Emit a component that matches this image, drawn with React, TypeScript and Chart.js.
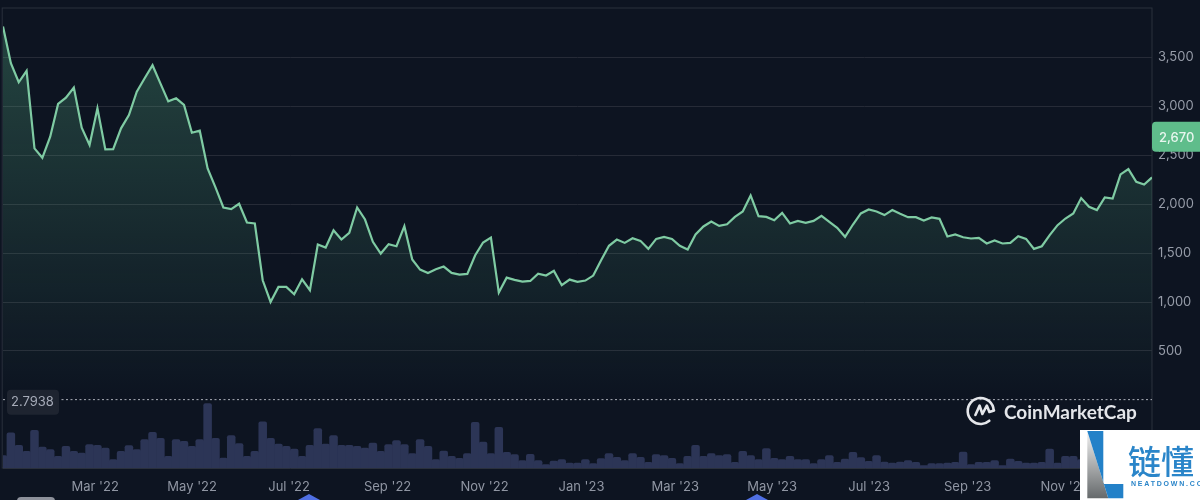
import React, { useEffect, useRef } from "react";
import { Chart, registerables } from "chart.js";

Chart.register(...registerables);

const prices = [
  3816, 3441, 3247, 3363, 2571, 2475, 2690, 3025, 3090, 3192, 2782, 2605, 2980, 2561, 2564, 2776, 2912, 3151, 3288, 3421,
  3236, 3052, 3083, 3015, 2731, 2752, 2366, 2172, 1967, 1950, 2005, 1813, 1803, 1223, 1001, 1155, 1155, 1080, 1233, 1121,
  1588, 1558, 1735, 1639, 1708, 1967, 1844, 1616, 1496, 1592, 1571,
  1776, 1435, 1332, 1298, 1336, 1363, 1298, 1281, 1288, 1479, 1609, 1660, 1097, 1250, 1227, 1210, 1216, 1291, 1271, 1319,
  1172, 1230, 1206, 1220, 1271, 1428, 1575, 1639, 1605, 1653, 1626, 1544, 1646, 1667, 1646, 1575, 1537, 1691, 1773, 1824,
  1779, 1796, 1871, 1926, 2090, 1878, 1871, 1837, 1912, 1803, 1830,
  1810, 1830, 1882, 1820, 1759, 1667, 1793, 1906, 1947, 1926, 1889, 1940, 1902, 1868, 1868, 1834, 1865, 1851, 1670, 1691,
  1663, 1650, 1657, 1599, 1629, 1599, 1605, 1674, 1646, 1544, 1571, 1684, 1786, 1854, 1906, 2063, 1974, 1940, 2069, 2059,
  2305, 2359, 2230, 2202, 2274,
];

const volumes = [
  37, 105, 68, 50, 113, 63, 55, 35, 65, 50, 45, 70, 68, 60, 25, 50, 67, 55, 85, 107, 89, 35, 85, 80, 65, 85, 193, 89, 30,
  97, 73, 35, 50, 138, 89, 72, 65, 57, 35, 68, 118, 72, 97, 68, 68, 65, 60, 75, 50, 70, 82,
  70, 43, 85, 65, 25, 51, 35, 29, 43, 137, 78, 43, 122, 47, 40, 22, 41, 22, 10, 21, 25, 15, 15, 25, 13, 28, 43, 32, 22, 43,
  32, 17, 40, 37, 29, 13, 35, 68, 35, 43, 37, 40, 17, 50, 37, 25, 58, 29, 25, 35, 25,
  25, 13, 25, 37, 17, 27, 47, 31, 20, 37, 18, 15, 18, 22, 17, 7, 13, 13, 15, 17, 48, 10, 17, 17, 22, 7, 27, 20, 15, 15, 17,
  57, 15, 35, 35, 25, 25, 30, 22, 28, 20, 24, 26, 30, 22,
];

const yTickValues = [500, 1000, 1500, 2000, 2500, 3000, 3500];
const xTickDates = [
  "2022-03-01", "2022-05-01", "2022-07-01", "2022-09-01", "2022-11-01", "2023-01-01",
  "2023-03-01", "2023-05-01", "2023-07-01", "2023-09-01", "2023-11-01",
];
const xTickLabels = [
  "Mar '22", "May '22", "Jul '22", "Sep '22", "Nov '22", "Jan '23",
  "Mar '23", "May '23", "Jul '23", "Sep '23", "Nov '23",
];
const startDate = "2022-01-02";
const endDate = "2023-12-26";
const currentPrice = 2670;
const minPrice = 2.7938;

const BG = "#0d1421";
const FONT = "Inter, 'Noto Sans', sans-serif";

const t0 = Date.parse(startDate);
const t1 = Date.parse(endDate);
const dateAt = (i: number) => t0 + ((t1 - t0) * i) / (prices.length - 1);
const tickTimes = xTickDates.map((d) => Date.parse(d));

const roundRect = (ctx: CanvasRenderingContext2D, x: number, y: number, w: number, h: number, r: number) => {
  ctx.beginPath();
  ctx.roundRect(x, y, w, h, r);
};

const decorations = {
  id: "decorations",
  beforeDatasetsDraw(chart: any) {
    const { ctx, chartArea: a } = chart;
    ctx.save();
    ctx.strokeStyle = "#2a303d";
    ctx.lineWidth = 1;
    ctx.strokeRect(a.left - 0.8, a.top, a.right - a.left + 0.8, a.bottom - a.top);
    ctx.restore();
  },
  afterDraw(chart: any) {
    const { ctx, scales } = chart;
    const y = scales.y;
    ctx.save();

    // current price tag
    const py = y.getPixelForValue(currentPrice) - 2;
    ctx.fillStyle = "#5fbd8b";
    roundRect(ctx, 1152, py - 15, 60, 30, 4);
    ctx.fill();
    ctx.fillStyle = "#e8f6ee";
    ctx.font = `500 13px ${FONT}`;
    ctx.textAlign = "left";
    ctx.textBaseline = "middle";
    ctx.fillText(currentPrice.toLocaleString("en-US"), 1159, py + 1);

    // min price tag
    const my = y.getPixelForValue(minPrice);
    ctx.fillStyle = "#1e2430";
    roundRect(ctx, 7, my - 10, 52, 25, 4);
    ctx.fill();
    ctx.fillStyle = "#a6abb8";
    ctx.font = `400 13px ${FONT}`;
    ctx.textAlign = "left";
    ctx.fillText(String(minPrice), 11, my + 2.5);

    // CoinMarketCap logo
    ctx.strokeStyle = "#e4e6ea";
    ctx.lineWidth = 2.6;
    ctx.lineCap = "round";
    ctx.lineJoin = "round";
    ctx.beginPath();
    ctx.arc(980.7, 411, 13, (-0.02) * Math.PI, 0.27 * Math.PI, true);
    ctx.stroke();
    ctx.beginPath();
    ctx.moveTo(975.4, 415);
    ctx.lineTo(979.6, 405.6);
    ctx.lineTo(982.4, 414);
    ctx.lineTo(986.8, 405.6);
    ctx.lineTo(989.4, 412);
    ctx.lineTo(994, 410.5);
    ctx.stroke();
    ctx.fillStyle = "#e4e6ea";
    ctx.font = "700 19px Lato, 'Open Sans', sans-serif";
    ctx.textBaseline = "alphabetic";
    ctx.textAlign = "left";
    ctx.fillText("CoinMarketCap", 1004, 419);

    // event markers under the axis
    ctx.fillStyle = "#4f6fe3";
    for (const cx of [309, 757]) {
      ctx.beginPath();
      ctx.moveTo(cx, 494);
      ctx.lineTo(cx + 11, 500);
      ctx.lineTo(cx - 11, 500);
      ctx.closePath();
      ctx.fill();
    }
    ctx.fillStyle = "#8d919b";
    roundRect(ctx, 17, 497, 38, 8, 4);
    ctx.fill();

    // NEATDOWN watermark
    ctx.fillStyle = "#ffffff";
    ctx.fillRect(1080, 430, 120, 70);
    const grad = ctx.createLinearGradient(0, 431, 0, 498);
    grad.addColorStop(0, "#f2f2f2");
    grad.addColorStop(1, "#666a6c");
    ctx.fillStyle = grad;
    ctx.beginPath();
    ctx.moveTo(1087.3, 431);
    ctx.lineTo(1087.3, 498.3);
    ctx.lineTo(1108.3, 498.3);
    ctx.closePath();
    ctx.fill();
    ctx.fillStyle = "#2381c8";
    ctx.beginPath();
    ctx.moveTo(1087.3, 431);
    ctx.lineTo(1103.3, 431);
    ctx.lineTo(1103.3, 484);
    ctx.lineTo(1123.3, 484);
    ctx.lineTo(1123.3, 498.3);
    ctx.lineTo(1108.3, 498.3);
    ctx.closePath();
    ctx.fill();
    ctx.fillStyle = "#2a85c9";
    ctx.font = "500 33px 'Noto Sans CJK SC', sans-serif";
    ctx.textBaseline = "middle";
    ctx.textAlign = "left";
    ctx.fillText("链懂", 1128, 461);
    ctx.font = "700 7px 'Liberation Sans', sans-serif";
    (ctx as any).letterSpacing = "1.8px";
    ctx.fillText("NEATDOWN.COM", 1131, 484);
    (ctx as any).letterSpacing = "0px";
    ctx.restore();
  },
};

export default function App() {
  const ref = useRef<HTMLCanvasElement | null>(null);

  useEffect(() => {
    document.body.style.margin = "0";
    document.body.style.background = BG;
    const chart = new Chart(ref.current as HTMLCanvasElement, {
      type: "line",
      data: {
        datasets: [
          {
            type: "line",
            data: [
              { x: t0, y: minPrice },
              { x: t1, y: minPrice },
            ],
            yAxisID: "y",
            borderColor: "rgba(225,228,235,0.75)",
            borderWidth: 1,
            borderDash: [2, 2.5],
            pointRadius: 0,
            fill: false,
            order: 0,
          },
          {
            type: "line",
            data: prices.map((v, i) => ({ x: dateAt(i), y: v })),
            yAxisID: "y",
            borderColor: "#7fcba3",
            borderWidth: 2.2,
            tension: 0,
            pointRadius: 0,
            fill: { value: 0 },
            backgroundColor: (c: any) => {
              const { ctx, scales, chartArea } = c.chart;
              if (!chartArea || !scales.y) return "rgba(92,184,138,0.1)";
              const top = scales.y.getPixelForValue(3500);
              const bottom = scales.y.getPixelForValue(0);
              if (!Number.isFinite(top) || !Number.isFinite(bottom)) return "rgba(92,184,138,0.1)";
              const g = ctx.createLinearGradient(0, top, 0, bottom);
              g.addColorStop(0, "rgba(92,184,138,0.27)");
              g.addColorStop(1, "rgba(92,184,138,0)");
              return g;
            },
            order: 1,
          },
          {
            type: "bar",
            data: volumes.map((v, i) => ({ x: dateAt(i), y: v })),
            yAxisID: "vol",
            backgroundColor: "#2c3556",
            barPercentage: 1,
            categoryPercentage: 1,
            borderRadius: { topLeft: 2, topRight: 2, bottomLeft: 0, bottomRight: 0 },
            order: 2,
          },
        ],
      } as any,
      options: {
        animation: false,
        responsive: false,
        devicePixelRatio: 1,
        layout: { autoPadding: false, padding: { left: 3, top: 8, right: 0, bottom: 0 } },
        plugins: { legend: { display: false }, tooltip: { enabled: false } },
        scales: {
          x: {
            type: "linear",
            offset: false,
            min: t0,
            max: t1,
            afterBuildTicks: (s: any) => {
              s.ticks = tickTimes.map((value) => ({ value }));
            },
            afterFit: (s: any) => {
              s.height = 32;
              s.paddingLeft = 0;
              s.paddingRight = 0;
            },
            grid: { display: false, drawTicks: false, offset: false },
            border: { display: true, color: "#2a303d" },
            ticks: {
              autoSkip: false,
              maxRotation: 0,
              padding: 11,
              color: "#9096a3",
              font: { family: FONT, size: 13 },
              callback: (v: any) => xTickLabels[tickTimes.indexOf(v)],
            },
          },
          y: {
            position: "right",
            min: -696,
            max: 4006,
            afterBuildTicks: (s: any) => {
              s.ticks = yTickValues.map((value) => ({ value }));
            },
            afterFit: (s: any) => {
              s.width = 48;
              s.paddingTop = 0;
              s.paddingBottom = 0;
            },
            grid: { color: "#262b37", lineWidth: 1, drawTicks: false },
            border: { display: false },
            ticks: {
              padding: 6,
              color: "#969ca8",
              font: { family: FONT, size: 13 },
              callback: (v: any) => Number(v).toLocaleString("en-US"),
            },
          },
          vol: {
            display: false,
            min: 0,
            max: 1378,
          },
        },
      } as any,
      plugins: [decorations],
    });
    return () => chart.destroy();
  }, []);

  return (
    <div style={{ position: "fixed", left: 0, top: 0, width: 1200, height: 500, background: BG, overflow: "hidden" }}>
      <canvas ref={ref} width={1200} height={500} style={{ display: "block" }} />
    </div>
  );
}
